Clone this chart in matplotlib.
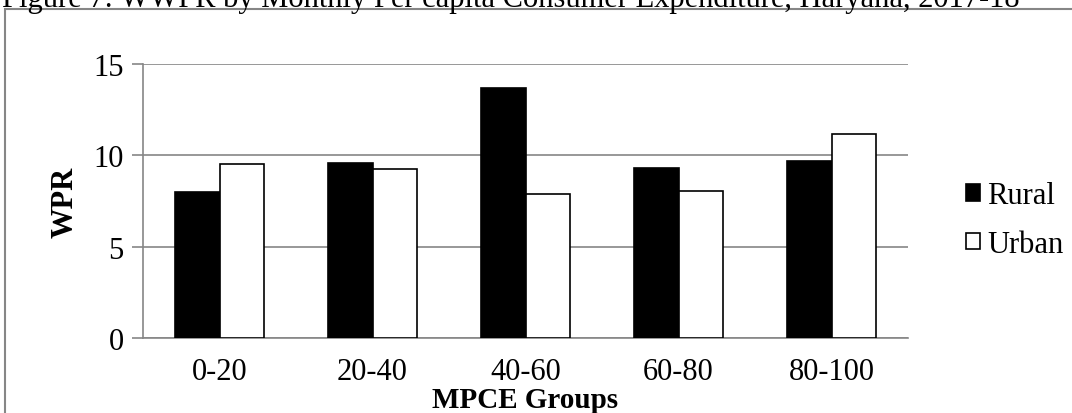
import matplotlib.pyplot as plt
from matplotlib.patches import Rectangle
import numpy as np

groups = ['0-20', '20-40', '40-60', '60-80', '80-100']
rural = [8.0, 9.6, 13.7, 9.3, 9.7]
urban = [9.5, 9.25, 7.9, 8.05, 11.15]

plt.rcParams['font.family'] = ['Liberation Serif', 'DejaVu Serif']
plt.rcParams['savefig.bbox'] = 'standard'
FS = 22

fig = plt.figure(figsize=(10.72, 4.14), dpi=100)
W, H = 1072, 414
ax = fig.add_axes([143 / W, 1 - 339 / H, (908 - 143) / W, (339 - 65) / H])

x = np.arange(len(groups))
bw = 0.29
ax.bar(x - bw / 2, rural, bw, color='black', edgecolor='black', linewidth=1.2, label='Rural', zorder=3)
ax.bar(x + bw / 2, urban, bw, color='white', edgecolor='black', linewidth=1.2, label='Urban', zorder=3)

ax.set_xlim(-0.5, len(groups) - 0.5)
ax.set_ylim(0, 15)
ax.set_yticks([0, 5, 10, 15])
ax.set_xticks(x)
ax.set_xticklabels(groups)
ax.tick_params(axis='y', labelsize=FS, length=8, color='#868686', width=1.2, pad=6)
ax.tick_params(axis='x', labelsize=FS, length=0, pad=14)
ax.yaxis.grid(True, color='#868686', linewidth=1.2, zorder=0)
for s in ['top', 'right']:
    ax.spines[s].set_visible(False)
for s in ['left', 'bottom']:
    ax.spines[s].set_color('#868686')
    ax.spines[s].set_linewidth(1.2)

ax.set_ylabel('WPR', fontsize=FS, fontweight='bold', labelpad=10)
ax.set_xlabel('MPCE Groups', fontsize=21, fontweight='bold', labelpad=0)

ax.legend(loc='center left', bbox_to_anchor=(1.06, 0.43), frameon=False, fontsize=FS,
          handlelength=0.45, handleheight=0.45, handletextpad=0.25, labelspacing=0.65,
          borderaxespad=0)

fig.patches.append(Rectangle((5 / W, -0.1), 1.2, 1.1 - 10 / H, transform=fig.transFigure,
                             fill=False, edgecolor='#868686', linewidth=1.5))
fig.text(2 / W, 1 - 7 / H, 'Figure 7: WWPR by Monthly Per capita Consumer Expenditure, Haryana, 2017-18',
         fontsize=FS, ha='left', va='baseline')

fig.savefig('out.png', dpi=100)
